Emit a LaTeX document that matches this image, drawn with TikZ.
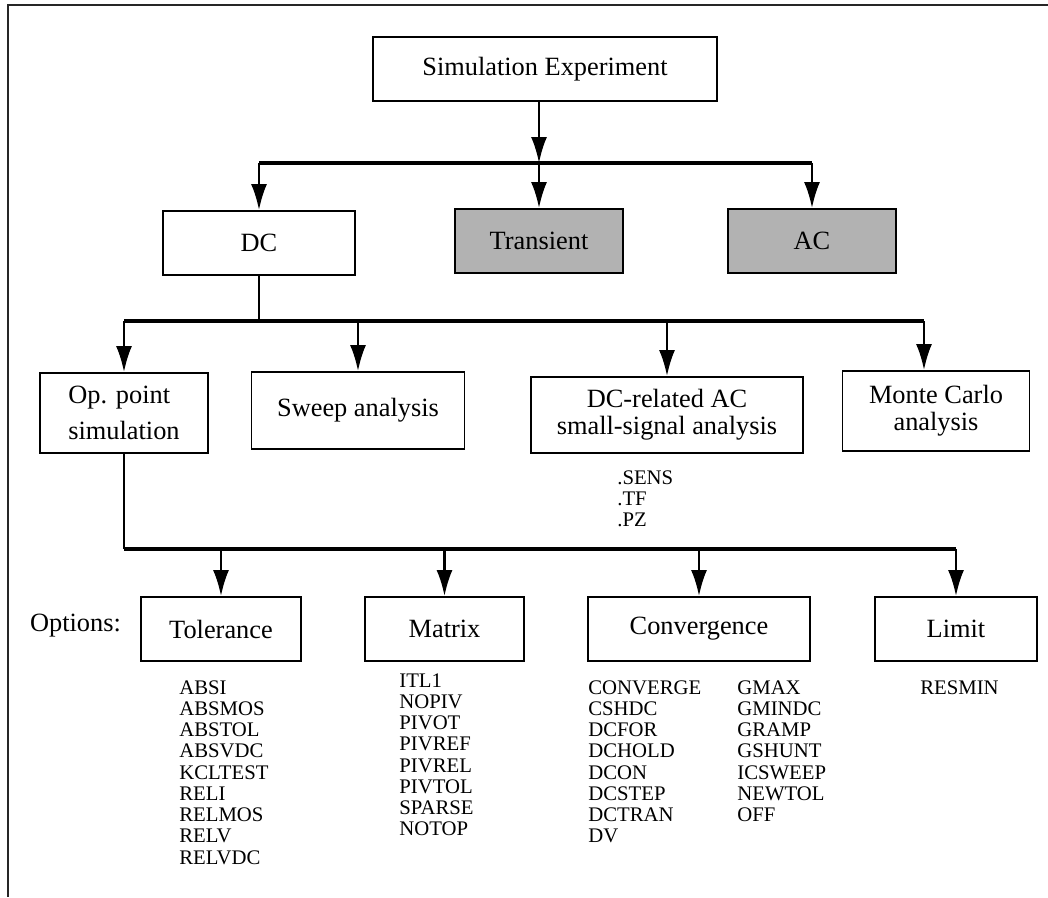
\documentclass[tikz,border=0pt]{standalone}
\usepackage{fontspec}
\setmainfont{Liberation Serif}
\usetikzlibrary{arrows.meta,calc}
\tikzset{
    block/.style = {draw, rectangle, line width=1.1pt,
        minimum height=1.28cm, align=center},
    shaded/.style = {block, fill=gray!60},
    wire/.style = {draw, line width=1.3pt},
    bus/.style = {draw, line width=1.8pt},
    optlist/.style = {anchor=north west, inner sep=0pt, align=left,
        font=\fontsize{11.8}{12.1}\selectfont}
}

\begin{document}
\begin{tikzpicture}[>={Latex[length=5.2mm,width=3.2mm]}, font=\fontsize{15}{15.4}\selectfont]
        \useasboundingbox (0,0) rectangle (20.96,-17.94);
        % frame edge
        \draw[line width=1.1pt, black!85] (20.96,-0.10) -- (0.16,-0.10) -- (0.16,-17.94);

        % top level
        \node [block, minimum width=6.88cm] (sim) at (10.90,-1.38) {Simulation Experiment};
        \node [block, minimum width=3.84cm] (dc) at (5.18,-4.86) {DC};
        \node [shaded, minimum width=3.36cm, right of=dc, node distance=5.6cm, yshift=0.04cm] (trans) {Transient};
        \node [shaded, minimum width=3.36cm, right of=trans, node distance=5.46cm] (ac) {AC};
        \coordinate (split1) at (10.78,-3.26);
        \draw[wire,->] (split1 |- sim.south) -- (split1);
        \draw[bus] (dc |- split1) -- (ac |- split1);
        \foreach \n in {dc,trans,ac}
            \draw[wire,->] (\n |- split1) -- (\n);

        % DC analyses
        \node [block, minimum width=3.36cm, minimum height=1.6cm, align=left,
               font=\fontsize{15}{20.5}\selectfont] (op) at (2.48,-8.26) {Op. point\\simulation};
        \node [block, minimum width=4.26cm, minimum height=1.54cm, right of=op, node distance=4.68cm, yshift=0.05cm] (sweep) {Sweep analysis};
        \node [block, minimum width=5.44cm, minimum height=1.52cm, right of=sweep, node distance=6.18cm, yshift=-0.09cm] (dcac) {DC-related AC\\small-signal analysis};
        \node [block, minimum width=3.74cm, minimum height=1.6cm, right of=dcac, node distance=5.38cm, yshift=0.08cm] (monte) {Monte Carlo\\analysis};
        \coordinate (split2) at (5.18,-6.42);
        \coordinate (mc) at ($(monte.north)+(-0.24,0)$);
        \draw[wire] (dc) -- (split2);
        \draw[bus] (op |- split2) -- (mc |- split2);
        \foreach \n in {op,sweep,dcac}
            \draw[wire,->] (\n |- split2) -- (\n);
        \draw[wire,->] (mc |- split2) -- (mc);
        \node [optlist] (senslist) at (12.34,-9.40) {.SENS\\.TF\\.PZ};

        % option groups
        \node [block, minimum width=3.2cm] (tol) at (4.42,-12.58) {Tolerance};
        \node [block, minimum width=3.18cm, right of=tol, node distance=4.47cm] (mat) {Matrix};
        \node [block, minimum width=4.44cm, right of=mat, node distance=5.09cm] (conv) {Convergence};
        \node [block, minimum width=3.24cm, right of=conv, node distance=5.14cm] (lim) {Limit};
        \node [left of=tol, node distance=2.91cm, yshift=0.06cm] (opts) {Options:};
        \coordinate (split3) at (2.48,-10.98);
        \draw[wire] (op) -- (split3);
        \draw[bus] (split3) -- (lim |- split3);
        \foreach \n in {tol,mat,conv,lim}
            \draw[wire,->] (\n |- split3) -- (\n);

        \node [optlist] (tollist) at (3.58,-13.60) {ABSI\\ABSMOS\\ABSTOL\\ABSVDC\\KCLTEST\\RELI\\RELMOS\\RELV\\RELVDC};
        \node [optlist] (matlist) at (7.98,-13.46) {ITL1\\NOPIV\\PIVOT\\PIVREF\\PIVREL\\PIVTOL\\SPARSE\\NOTOP};
        \node [optlist] (convlista) at (11.76,-13.60) {CONVERGE\\CSHDC\\DCFOR\\DCHOLD\\DCON\\DCSTEP\\DCTRAN\\DV};
        \node [optlist] (convlistb) at (14.74,-13.60) {GMAX\\GMINDC\\GRAMP\\GSHUNT\\ICSWEEP\\NEWTOL\\OFF};
        \node [optlist] (limlist) at (18.40,-13.60) {RESMIN};
    \end{tikzpicture}
\end{document}
